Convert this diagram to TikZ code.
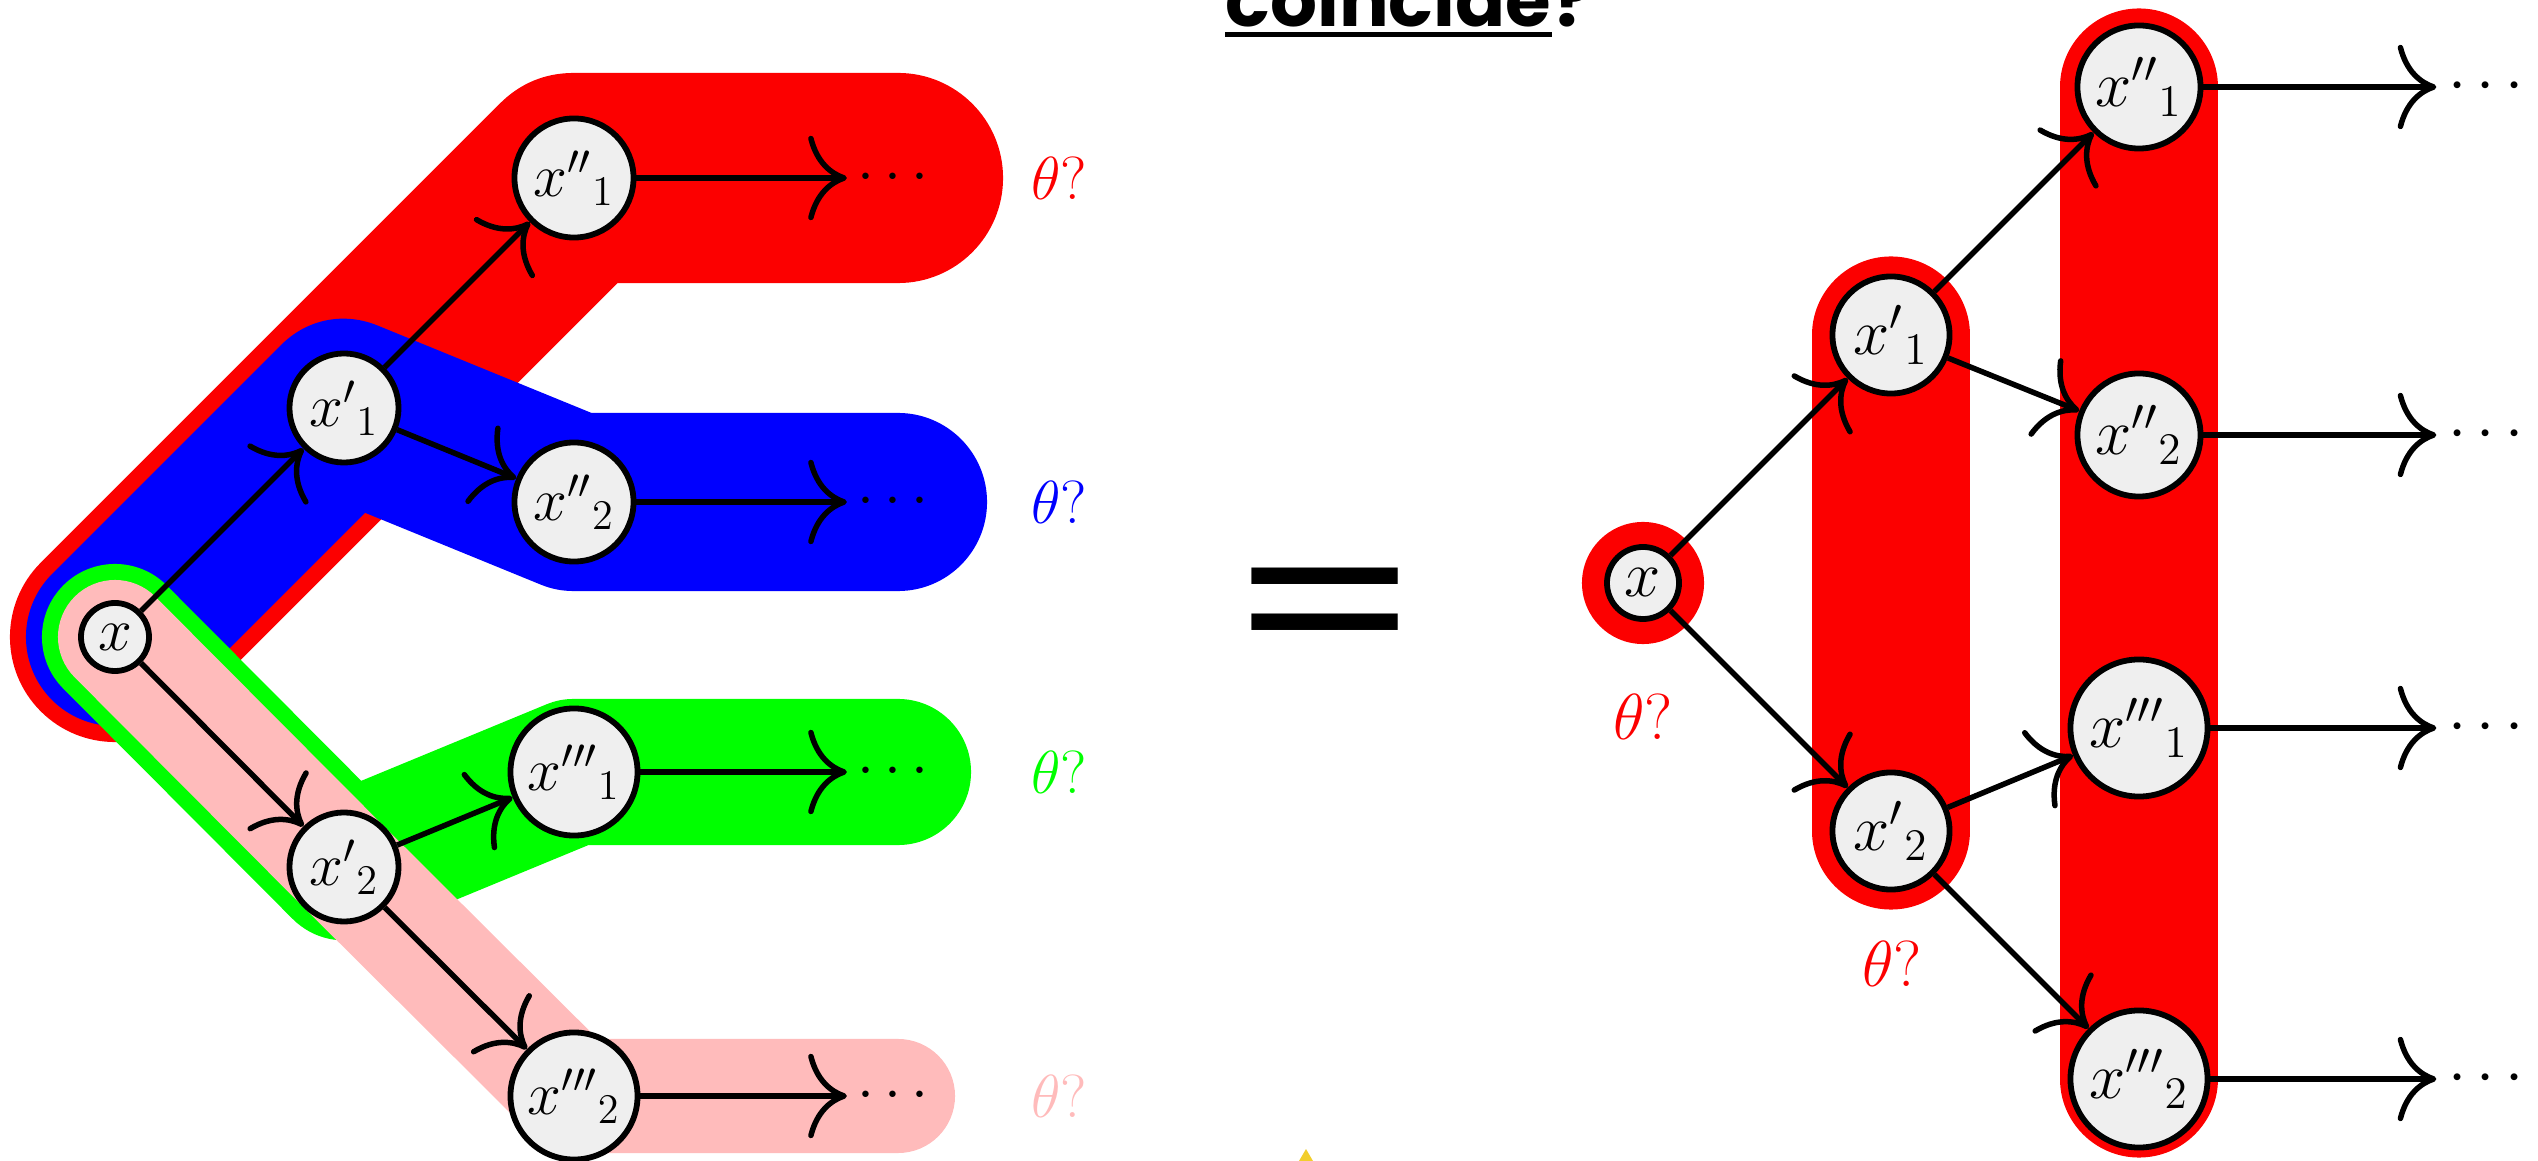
\documentclass[tikz,border=0pt]{standalone}
\usepackage{fontspec}
\usepackage{graphicx}
\newfontfamily\poppins{Poppins}
\usetikzlibrary{arrows.meta}
\definecolor{nodefill}{RGB}{239,239,239}
\definecolor{bandred}{RGB}{252,0,0}
\definecolor{bandpink}{RGB}{255,187,187}
\definecolor{staryellow}{RGB}{242,206,44}
\newcommand{\rl}[1]{\scalebox{1.07}{#1}}
\begin{document}
\begin{tikzpicture}[x=0.01cm,y=-0.01cm,
  nd/.style={circle,draw=black,line width=0.058cm,fill=nodefill,inner sep=0pt,font=\LARGE},
  nx/.style={nd,minimum size=0.68cm},
  n1/.style={nd,minimum size=1.09cm},
  n2/.style={nd,minimum size=1.19cm},
  n3/.style={nd,minimum size=1.27cm},
  rnx/.style={nd,minimum size=0.72cm},
  rn1/.style={nd,minimum size=1.17cm},
  rn2/.style={nd,minimum size=1.23cm},
  rn3/.style={nd,minimum size=1.37cm},
  arr/.style={line width=0.055cm,-{Computer Modern Rightarrow[length=11pt,width=24pt]}},
  dotsnode/.style={inner sep=0.1cm,font=\LARGE},
  rdotsnode/.style={inner sep=0.11cm,font=\LARGE},
  band/.style={line cap=round,line join=round},
  th/.style={font=\LARGE,inner sep=0pt},
]
\clip (0,0) rectangle (2538,1161);
% ---------- left diagram positions
\coordinate (cx)  at (115,637);
\coordinate (cx1) at (344,408);
\coordinate (cx2) at (344,867);
\coordinate (cy1) at (574,178);
\coordinate (cy2) at (574,502);
\coordinate (cz1) at (574,772);
\coordinate (cz2) at (574,1096);
\coordinate (ey1) at (898,178);
\coordinate (ey2) at (898,502);
\coordinate (ez1) at (898,772);
\coordinate (ez2) at (898,1096);
% bands
\draw[band,bandred,line width=2.10cm] (cx) -- (cx1) -- (cy1) -- (ey1);
\draw[band,blue,line width=1.78cm] (cx) -- (cx1) -- (cy2) -- (ey2);
\draw[band,green,line width=1.46cm] (cx) -- (cx2) -- (cz1) -- (ez1);
\draw[band,bandpink,line width=1.14cm] (cx) -- (cx2) -- (cz2) -- (ez2);
% nodes
\node[nx] (x)  at (cx)  {$x$};
\node[n1] (x1) at (cx1) {${x'}_1$};
\node[n1] (x2) at (cx2) {${x'}_2$};
\node[n2] (y1) at (cy1) {${x''}_1$};
\node[n2] (y2) at (cy2) {${x''}_2$};
\node[n3] (z1) at (cz1) {${x'''}_1$};
\node[n3] (z2) at (cz2) {${x'''}_2$};
\node[dotsnode] (d1) at (893,178)  {$\cdots$};
\node[dotsnode] (d2) at (893,502)  {$\cdots$};
\node[dotsnode] (d3) at (893,772)  {$\cdots$};
\node[dotsnode] (d4) at (893,1096) {$\cdots$};
\draw[arr] (x) -- (x1);
\draw[arr] (x) -- (x2);
\draw[arr] (x1) -- (y1);
\draw[arr] (x1) -- (y2);
\draw[arr] (x2) -- (z1);
\draw[arr] (x2) -- (z2);
\draw[arr] (y1) -- (d1);
\draw[arr] (y2) -- (d2);
\draw[arr] (z1) -- (d3);
\draw[arr] (z2) -- (d4);
\node[th,text=bandred]  (t1) at (1059,178)  {$\theta?$};
\node[th,text=blue]     (t2) at (1059,502)  {$\theta?$};
\node[th,text=green]    (t3) at (1059,772)  {$\theta?$};
\node[th,text=bandpink] (t4) at (1059,1096) {$\theta?$};
% ---------- title and equals
\node[anchor=base west,inner sep=0pt,font=\poppins\bfseries\fontsize{21pt}{25pt}\selectfont] (ttl) at (1225,27) {coincide};
\node[anchor=base west,inner sep=0pt,font=\poppins\bfseries\fontsize{21pt}{25pt}\selectfont] (qm) at (ttl.base east) {?};
\draw[line width=0.05cm] ([yshift=-0.075cm]ttl.base west) -- ([yshift=-0.075cm]ttl.base east);
\node[inner sep=0pt,font=\poppins\fontsize{80pt}{80pt}\selectfont] (eq) at (1325,623) {\scalebox{1}[0.76]{=}};
\fill[staryellow] (1306,1149) -- (1299,1161) -- (1313,1161) -- cycle;
% ---------- right diagram positions
\coordinate (rcx)  at (1643,583);
\coordinate (rcx1) at (1891,335);
\coordinate (rcx2) at (1891,831);
\coordinate (rcy1) at (2139,87);
\coordinate (rcy2) at (2139,435);
\coordinate (rcz1) at (2139,728);
\coordinate (rcz2) at (2139,1079);
\fill[bandred] (rcx) circle[radius=0.61cm];
\draw[band,bandred,line width=1.57cm] (rcx1) -- (rcx2);
\draw[band,bandred,line width=1.57cm] (rcy1) -- (rcz2);
\node[rnx] (rx)  at (rcx)  {\rl{$x$}};
\node[rn1] (rx1) at (rcx1) {\rl{${x'}_1$}};
\node[rn1] (rx2) at (rcx2) {\rl{${x'}_2$}};
\node[rn2] (ry1) at (rcy1) {\rl{${x''}_1$}};
\node[rn2] (ry2) at (rcy2) {\rl{${x''}_2$}};
\node[rn3] (rz1) at (rcz1) {\rl{${x'''}_1$}};
\node[rn3] (rz2) at (rcz2) {\rl{${x'''}_2$}};
\node[rdotsnode] (rd1) at (2486,87)   {\rl{$\cdots$}};
\node[rdotsnode] (rd2) at (2486,435)  {\rl{$\cdots$}};
\node[rdotsnode] (rd3) at (2486,728)  {\rl{$\cdots$}};
\node[rdotsnode] (rd4) at (2486,1079) {\rl{$\cdots$}};
\draw[arr] (rx) -- (rx1);
\draw[arr] (rx) -- (rx2);
\draw[arr] (rx1) -- (ry1);
\draw[arr] (rx1) -- (ry2);
\draw[arr] (rx2) -- (rz1);
\draw[arr] (rx2) -- (rz2);
\draw[arr] (ry1) -- (rd1);
\draw[arr] (ry2) -- (rd2);
\draw[arr] (rz1) -- (rd3);
\draw[arr] (rz2) -- (rd4);
\node[th,text=bandred] (rt1) at (1643,717) {\rl{$\theta?$}};
\node[th,text=bandred] (rt2) at (1892,964) {\rl{$\theta?$}};
\end{tikzpicture}
\end{document}
